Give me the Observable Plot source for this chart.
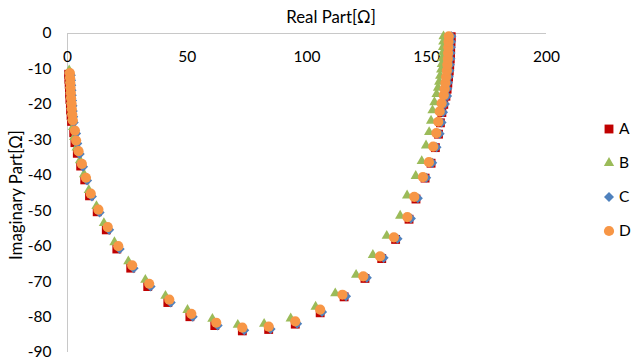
<!DOCTYPE html>
<html><head><meta charset="utf-8">
<script src="https://cdn.jsdelivr.net/npm/d3@7"></script>
<script src="https://cdn.jsdelivr.net/npm/@observablehq/plot@0.6"></script>
<style>
html,body{margin:0;padding:0;background:#fff;}
#wrap{position:relative;width:633px;height:363px;font-family:Lato,"Open Sans",sans-serif;}
#legend{position:absolute;left:596px;top:112px;}
</style></head><body><div id="wrap"></div>
<script>
const seriesNames = ["A","B","C","D"];
const seriesColors = ["#C00000","#9BBB59","#4F81BD","#F79646"];
const xTicks = [0,50,100,150,200];
const yTicks = [0,-10,-20,-30,-40,-50,-60,-70,-80,-90];
const xTitle = "Real Part[Ω]";
const yTitle = "Imaginary Part[Ω]";

const A = [[0.5,-11.5],[0.6,-12.9],[0.7,-14.3],[0.8,-15.7],[0.9,-17.1],[1.0,-18.6],[1.2,-20.1],[1.3,-21.6],[1.5,-23.2],[1.7,-24.8],
[2.6,-28.0],[3.1,-30.8],[4.1,-33.8],[5.5,-37.4],[7.2,-41.3],[9.2,-45.8],[12.4,-50.3],[16.2,-55.4],[20.6,-60.8],[26.4,-66.2],
[33.5,-71.4],[41.9,-75.9],[51.1,-79.9],[61.5,-82.4],[73.0,-83.9],[84.0,-83.5],[95.1,-82.0],[105.5,-78.8],[115.5,-74.3],[124.2,-69.1],
[131.2,-63.5],[137.0,-58.1],[142.6,-52.4],[145.5,-46.7],[149.3,-40.8],[151.8,-36.6],[153.6,-32.2],[154.9,-28.4],[155.7,-25.2],[156.3,-22.3],
[157.1,-20.0],[158.0,-17.7],[158.5,-15.7],[158.8,-14.0],[159.1,-12.3],[159.4,-10.6],[159.6,-8.9],[159.8,-7.2],[159.9,-5.6],[160.0,-4.0],
[160.1,-2.4],[160.2,-0.9]];

const B = [[0.7,-10.4],[0.8,-11.8],[0.9,-13.2],[1.0,-14.6],[1.1,-16.0],[1.2,-17.5],[1.4,-19.0],[1.5,-20.5],[1.7,-22.1],[1.9,-23.7],
[2.3,-26.4],[2.8,-29.2],[3.8,-32.2],[5.2,-35.8],[6.9,-39.7],[8.9,-44.2],[12.1,-48.7],[15.2,-53.5],[19.6,-58.9],[25.4,-64.3],
[32.5,-69.5],[40.9,-74.0],[50.1,-78.0],[60.5,-80.5],[71.1,-82.2],[82.1,-81.9],[93.2,-80.4],[103.6,-77.1],[111.8,-73.3],[120.5,-68.1],
[127.5,-62.5],[133.3,-57.1],[138.9,-51.4],[141.8,-45.7],[145.4,-40.2],[147.9,-36.0],[149.7,-31.6],[151.0,-27.8],[151.8,-24.6],[152.4,-21.7],
[153.2,-19.4],[154.1,-17.1],[154.7,-15.3],[155.2,-13.6],[155.6,-11.9],[156.0,-10.2],[156.3,-8.6],[156.5,-7.0],[156.7,-5.4],[156.8,-3.8],
[156.9,-2.3],[157.0,-0.8]];

const C = [[1.4,-11.8],[1.5,-13.2],[1.6,-14.6],[1.7,-16.0],[1.8,-17.4],[1.9,-18.9],[2.1,-20.4],[2.2,-21.9],[2.4,-23.5],[2.6,-25.1],
[3.6,-28.2],[4.1,-31.0],[5.1,-34.0],[6.5,-37.6],[8.2,-41.5],[10.2,-46.0],[13.4,-50.5],[17.4,-55.4],[21.8,-60.8],[27.6,-66.2],
[34.7,-71.4],[43.1,-75.9],[52.3,-79.9],[62.7,-82.4],[73.8,-83.7],[84.8,-83.4],[95.9,-81.9],[106.3,-78.6],[116.3,-74.1],[125.0,-68.9],
[132.0,-63.3],[137.8,-57.9],[143.4,-52.2],[146.3,-46.5],[149.8,-40.7],[152.3,-36.5],[154.1,-32.1],[155.4,-28.3],[156.2,-25.1],[156.8,-22.2],
[157.6,-19.9],[158.5,-17.6],[158.6,-15.6],[158.9,-13.9],[159.2,-12.2],[159.5,-10.5],[159.7,-8.8],[159.9,-7.1],[160.0,-5.5],[160.1,-3.9],
[160.2,-2.3],[160.3,-0.8]];

const D = [[1.0,-11.2],[1.1,-12.6],[1.2,-14.0],[1.3,-15.4],[1.4,-16.8],[1.5,-18.3],[1.7,-19.8],[1.8,-21.3],[2.0,-22.9],[2.2,-24.5],
[3.1,-27.4],[3.6,-30.2],[4.6,-33.2],[6.0,-36.8],[7.7,-40.7],[9.7,-45.2],[12.9,-49.7],[16.8,-54.6],[21.2,-60.0],[27.0,-65.4],
[34.1,-70.6],[42.5,-75.1],[51.7,-79.1],[62.1,-81.6],[73.0,-83.0],[84.0,-82.7],[95.1,-81.2],[105.5,-77.9],[114.8,-73.7],[123.5,-68.5],
[130.5,-62.9],[136.3,-57.5],[141.9,-51.8],[144.8,-46.1],[148.4,-40.5],[150.9,-36.3],[152.7,-31.9],[154.0,-28.1],[154.8,-24.9],[155.4,-22.0],
[156.2,-19.7],[157.1,-17.4],[157.5,-15.6],[157.8,-13.9],[158.1,-12.2],[158.4,-10.5],[158.6,-8.8],[158.8,-7.1],[158.9,-5.5],[159.0,-3.9],
[159.1,-2.3],[159.2,-0.8]];

const diamond = {draw(ctx, size){ const h = Math.sqrt(size/2); ctx.moveTo(0,-h); ctx.lineTo(h,0); ctx.lineTo(0,h); ctx.lineTo(-h,0); ctx.closePath(); }};
const symbols = ["square","triangle",diamond,"circle"];
const radii = [5.0,3.8,4.0,5.1];
const allSeries = [A,B,C,D];

const font = 'Lato,"Open Sans",sans-serif';
const chart = Plot.plot({
  width: 633, height: 363,
  marginLeft: 67, marginRight: 87, marginTop: 33, marginBottom: 11,
  x: {domain: [0, 200], axis: null},
  y: {domain: [-90, 0], axis: null},
  style: {fontFamily: font, fontSize: "15.5px", color: "#000", background: "#fff"},
  marks: [
    Plot.ruleY([0], {stroke: "#c8c8c8", strokeWidth: 1}),
    Plot.ruleX([0], {stroke: "#c8c8c8", strokeWidth: 1}),
    Plot.axisY(yTicks, {tickSize: 0, tickPadding: 16, tickFormat: d => String(d), fill: "#000", fontSize: 15.5}),
    Plot.text(xTicks, {x: d => d, frameAnchor: "top", dy: 24, lineAnchor: "middle", textAnchor: "middle", text: d => String(d), fill: "#000", fontSize: 15.5}),
    ...allSeries.map((s, i) => Plot.dot(s, {x: d => d[0], y: d => d[1], symbol: symbols[i], r: radii[i], fill: seriesColors[i], stroke: "none"})),
    Plot.text([xTitle], {frameAnchor: "top", dx: 24, dy: -16, lineAnchor: "middle", textAnchor: "middle", fill: "#000", fontSize: 16.8}),
    Plot.text([yTitle], {frameAnchor: "left", dx: -51, dy: 2, rotate: -90, lineAnchor: "middle", textAnchor: "middle", fill: "#000", fontSize: 16.8})
  ]
});
const wrap = document.getElementById("wrap");
wrap.appendChild(chart);

// legend
const leg = d3.select(wrap).append("svg").attr("id","legend").attr("width", 37).attr("height", 140);
seriesNames.forEach((n, i) => {
  const cy = 17 + i * 34;
  const sym = i === 2 ? diamond : [d3.symbolSquare, d3.symbolTriangle, null, d3.symbolCircle][i];
  leg.append("path").attr("transform", `translate(13,${cy})`)
    .attr("d", d3.symbol(sym, radii[i]*radii[i]*Math.PI)())
    .attr("fill", seriesColors[i]);
  leg.append("text").attr("x", 23).attr("y", cy).attr("dy", "0.35em")
    .attr("font-family", font).attr("font-size", 15.5).attr("fill", "#000").text(n);
});
</script></body></html>
